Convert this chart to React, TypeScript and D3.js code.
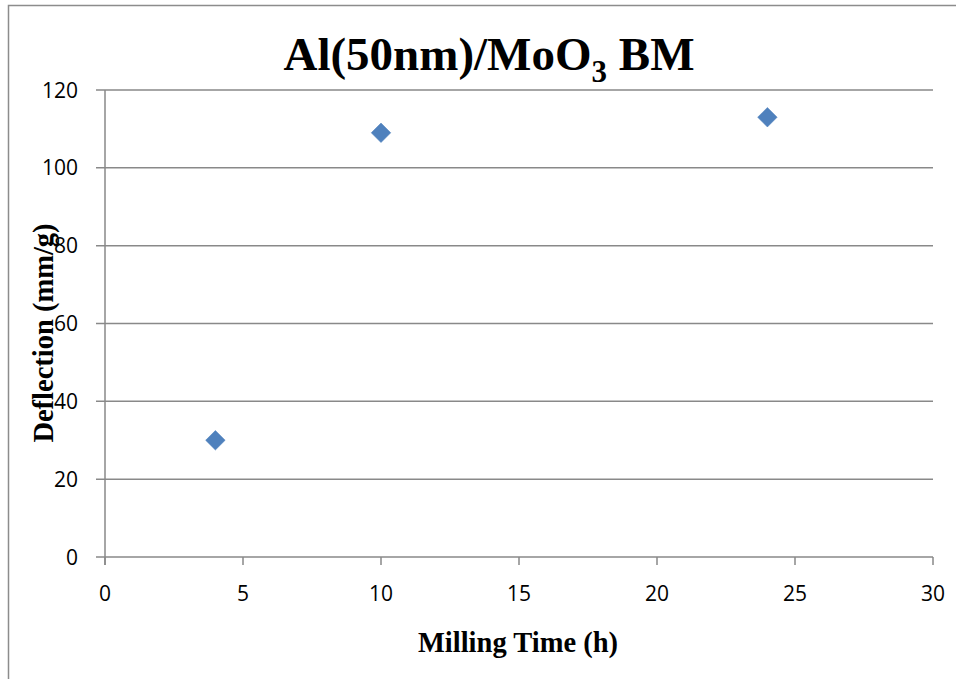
import React from "react";
import * as d3 from "d3";

const millingTime = [4, 10, 24];
const deflection = [30, 109, 113];
const xTicks = [0, 5, 10, 15, 20, 25, 30];
const yTicks = [0, 20, 40, 60, 80, 100, 120];

const W = 956;
const H = 679;

export default function App() {
  const x = d3.scaleLinear().domain([0, 30]).range([105, 933]);
  const y = d3.scaleLinear().domain([0, 120]).range([557, 90]);
  const grid = "#898989";
  const sym = d3.symbol().type(d3.symbolSquare).size(190)();
  return (
    <svg width={W} height={H} style={{ position: "absolute", left: 0, top: 0 }}>
      <rect x={0} y={0} width={W} height={H} fill="#fff" />
      <rect x={8.5} y={5.5} width={W + 20} height={H + 20} fill="none" stroke="#8c8c8c" strokeWidth={1.5} />
      {yTicks.map((t) => (
        <g key={t}>
          <line x1={96} x2={933} y1={y(t)} y2={y(t)} stroke={grid} strokeWidth={1.5} />
          <text x={78} y={y(t)} dy="0.36em" textAnchor="end" fontFamily="Open Sans, sans-serif" fontSize={21} fill="#000">
            {t}
          </text>
        </g>
      ))}
      <line x1={x(0)} x2={x(0)} y1={y(120)} y2={y(0) + 8} stroke={grid} strokeWidth={1.5} />
      {xTicks.map((t) => (
        <g key={t}>
          <line x1={x(t)} x2={x(t)} y1={y(0)} y2={y(0) + 8} stroke={grid} strokeWidth={1.5} />
          <text x={x(t)} y={593} dy="0.36em" textAnchor="middle" fontFamily="Open Sans, sans-serif" fontSize={21} fill="#000">
            {t}
          </text>
        </g>
      ))}
      {millingTime.map((t, i) => (
        <path
          key={i}
          d={sym}
          transform={`translate(${x(t)},${y(deflection[i])}) rotate(45)`}
          fill="#4F81BD"
          stroke="#4A7EBB"
          strokeWidth={0.5}
        />
      ))}
      <text x={489} y={70} textAnchor="middle" fontFamily="Liberation Serif, serif" fontWeight="bold" fontSize={47} fill="#000">
        Al(50nm)/MoO
        <tspan fontSize={31} dy={12}>3</tspan>
        <tspan dy={-12}> BM</tspan>
      </text>
      <text x={518} y={652} textAnchor="middle" fontFamily="Liberation Serif, serif" fontWeight="bold" fontSize={28.5} fill="#000">
        Milling Time (h)
      </text>
      <text
        transform={`translate(53,333) rotate(-90)`}
        textAnchor="middle"
        fontFamily="Liberation Serif, serif"
        fontWeight="bold"
        fontSize={28.5}
        fill="#000"
      >
        Deflection (mm/g)
      </text>
    </svg>
  );
}
